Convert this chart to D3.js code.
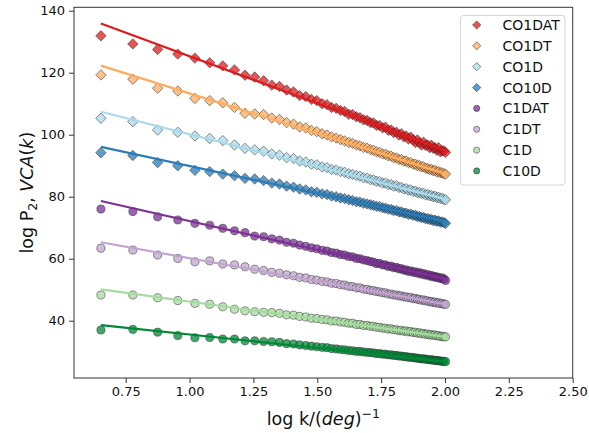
<!DOCTYPE html>
<html>
<head>
<meta charset="utf-8">
<script src="https://cdn.jsdelivr.net/npm/d3@7"></script>
<style>
  html, body { margin: 0; padding: 0; background: #fff; }
  svg { display: block; font-family: "DejaVu Sans", sans-serif; }
</style>
</head>
<body>
<svg id="chart" width="589" height="433"></svg>
<script>
// log k values (x)
const logK = [0.653,0.778,0.875,0.954,1.021,1.079,1.130,1.176,1.217,1.255,
  1.290,1.322,1.352,1.380,1.407,1.431,1.455,1.477,1.498,1.519,
  1.538,1.556,1.574,1.591,1.607,1.623,1.638,1.653,1.667,1.681,
  1.695,1.708,1.720,1.732,1.744,1.756,1.767,1.778,1.789,1.799,
  1.810,1.820,1.829,1.839,1.848,1.857,1.866,1.875,1.884,1.892,
  1.900,1.908,1.916,1.924,1.932,1.940,1.947,1.954,1.961,1.968,
  1.975,1.982,1.989,1.996,2.002];

const seriesNames = ["CO1DAT","CO1DT","CO1D","CO10D","C1DAT","C1DT","C1D","C10D"];
const seriesColors = ["#dc1c1f","#fdae61","#abd9e9","#2c7bb6","#7b3294","#c2a5cf","#a6dba0","#008837"];
const seriesShapes = ["diamond","diamond","diamond","diamond","circle","circle","circle","circle"];

const CO1DAT = [131.9,129.3,127.5,126.0,124.7,123.2,122.2,120.9,119.2,118.6,
  117.4,116.0,115.6,114.4,113.8,112.6,112.3,111.4,111.0,110.0,
  109.7,108.8,108.5,107.8,107.5,106.6,106.5,105.8,105.5,104.8,
  104.6,103.9,103.8,103.0,103.0,102.2,102.4,101.4,101.5,100.7,
  100.8,99.9,100.3,99.3,99.6,98.6,99.2,98.3,97.5,98.3,
  97.4,96.7,97.6,96.6,96.7,95.8,96.6,95.6,95.8,95.0,
  95.8,94.5,94.8,94.8,94.3];
const CO1DT = [119.3,117.9,115.0,114.1,111.7,111.0,110.3,108.8,106.9,106.7,
  106.5,105.4,104.9,103.9,103.4,102.5,102.2,101.4,101.0,100.3,
  99.9,99.3,98.9,98.4,98.0,97.5,97.2,96.7,96.4,95.9,
  95.7,95.2,95.0,94.5,94.3,93.8,93.7,93.2,93.1,92.6,
  92.5,92.0,92.0,91.5,91.5,91.0,91.0,90.5,90.5,90.0,
  90.1,89.6,89.7,89.2,89.1,88.8,88.8,88.4,88.5,88.0,
  88.1,87.7,87.7,87.4,87.3];
const CO1D = [105.3,104.2,101.5,100.8,99.6,98.8,98.1,96.7,95.6,95.1,
  94.7,93.8,93.4,92.6,92.3,91.5,91.2,90.5,90.3,89.6,
  89.4,88.8,88.6,88.1,87.9,87.4,87.2,86.8,86.6,86.1,
  86.0,85.5,85.4,85.0,84.9,84.4,84.4,83.9,83.9,83.4,
  83.5,83.0,83.0,82.5,82.6,82.1,82.2,81.7,81.8,81.3,
  81.4,81.0,81.1,80.6,80.7,80.3,80.4,80.0,80.1,79.7,
  79.8,79.4,79.5,79.1,79.0];
const CO10D = [94.2,93.3,91.0,90.0,88.5,88.1,87.3,86.8,85.9,85.7,
  85.2,84.4,84.1,83.4,83.1,82.5,82.2,81.6,81.4,80.9,
  80.7,80.2,80.0,79.6,79.4,79.0,78.8,78.4,78.3,77.9,
  77.7,77.4,77.2,76.9,76.8,76.4,76.3,76.0,75.9,75.5,
  75.5,75.1,75.1,74.7,74.7,74.3,74.4,74.0,74.0,73.6,
  73.6,73.3,73.3,72.9,73.0,72.6,72.7,72.3,72.4,72.1,
  72.2,71.8,71.9,71.6,71.4];
const C1DAT = [76.0,75.2,73.5,72.5,71.4,70.8,69.8,69.0,68.4,67.3,
  67.1,66.4,66.0,65.3,65.0,64.4,64.0,63.5,63.2,62.7,
  62.5,62.0,61.8,61.3,61.2,60.7,60.6,60.1,60.0,59.6,
  59.4,59.1,58.9,58.4,58.5,58.0,58.0,57.5,57.6,57.1,
  57.2,56.7,56.8,56.3,56.4,55.9,56.1,55.6,55.8,55.3,
  55.5,55.0,55.2,54.7,54.9,54.4,54.6,54.1,54.3,53.9,
  54.0,53.6,53.8,53.4,53.0];
const C1DT = [63.4,62.8,61.2,60.1,59.0,59.3,58.3,58.0,57.4,56.6,
  56.2,55.6,55.3,54.8,54.5,54.0,53.8,53.3,53.1,52.7,
  52.5,52.1,52.0,51.6,51.5,51.1,51.0,50.6,50.6,50.2,
  50.1,49.8,49.7,49.4,49.3,49.0,49.0,48.6,48.6,48.3,
  48.3,48.0,48.0,47.7,47.7,47.4,47.5,47.1,47.2,46.9,
  46.9,46.6,46.7,46.4,46.4,46.1,46.2,45.9,46.0,45.7,
  45.8,45.5,45.6,45.3,45.3];
const C1D = [48.3,48.3,47.4,46.5,45.6,45.3,44.5,43.7,43.2,42.9,
  42.7,42.6,42.4,41.9,41.8,41.4,41.2,40.8,40.7,40.4,
  40.3,39.9,39.9,39.6,39.5,39.2,39.2,38.8,38.8,38.5,
  38.5,38.2,38.2,37.9,37.9,37.6,37.6,37.3,37.4,37.1,
  37.1,36.8,36.9,36.6,36.7,36.4,36.5,36.2,36.3,36.0,
  36.1,35.8,35.9,35.6,35.7,35.4,35.5,35.3,35.4,35.1,
  35.2,34.9,35.0,34.8,34.8];
const C10D = [37.0,37.2,36.3,35.2,34.5,34.6,34.1,34.1,33.5,33.5,
  33.3,33.2,33.0,32.6,32.5,32.2,32.0,31.8,31.6,31.4,
  31.3,31.0,30.9,30.7,30.6,30.4,30.3,30.1,30.1,29.9,
  29.8,29.7,29.6,29.4,29.4,29.2,29.2,29.0,29.0,28.8,
  28.8,28.6,28.6,28.4,28.4,28.2,28.2,28.1,28.0,27.9,
  27.8,27.7,27.7,27.6,27.5,27.4,27.4,27.3,27.2,27.2,
  27.1,27.0,26.9,26.9,26.8];
const seriesValues = [CO1DAT, CO1DT, CO1D, CO10D, C1DAT, C1DT, C1D, C10D];

// fitted lines: value at first and last log k
const fitStart = [135.9,122.3,107.4,96.1,78.6,65.3,50.1,38.6];
const fitEnd   = [94.8,87.4,79.2,72.0,53.5,45.3,34.8,26.8];

const xTicks = [0.75,1.00,1.25,1.50,1.75,2.00,2.25,2.50];
const yTicks = [40,60,80,100,120,140];

const svg = d3.select("#chart");
const L = 74, R = 572.7, T = 7.3, B = 378;
const x = d3.scaleLinear().domain([0.5476, 2.5]).range([L, R]);
const y = d3.scaleLinear().domain([21.52, 141.1]).range([B, T]);

svg.append("defs").append("clipPath").attr("id","clip")
  .append("rect").attr("x",L).attr("y",T).attr("width",R-L).attr("height",B-T);

const plot = svg.append("g").attr("clip-path","url(#clip)");

const diamond = d3.symbol().type(d3.symbolSquare).size(54);
const circleSym = d3.symbol().type(d3.symbolCircle).size(52);

seriesNames.forEach((name, i) => {
  const g = plot.append("g");
  const data = logK.map((k, j) => ({x: k, y: seriesValues[i][j]}));
  g.selectAll("path").data(data).enter().append("path")
    .attr("d", seriesShapes[i] === "diamond" ? diamond() : circleSym())
    .attr("transform", d => `translate(${x(d.x)},${y(d.y)})` + (seriesShapes[i] === "diamond" ? " rotate(45)" : ""))
    .attr("fill", seriesColors[i])
    .attr("fill-opacity", 0.75)
    .attr("stroke", "#222")
    .attr("stroke-opacity", 0.6)
    .attr("stroke-width", 0.8);
});

seriesNames.forEach((name, i) => {
  const pts = [{x: logK[0], y: fitStart[i]}, {x: logK[logK.length-1], y: fitEnd[i]}];
  plot.append("path")
    .datum(pts)
    .attr("d", d3.line().x(d => x(d.x)).y(d => y(d.y)))
    .attr("fill","none")
    .attr("stroke", seriesColors[i])
    .attr("stroke-width", 2.2);
});

const xAxis = svg.append("g").attr("transform", `translate(0,${B})`)
  .call(d3.axisBottom(x).tickValues(xTicks).tickFormat(d3.format(".2f")).tickSize(5).tickPadding(4));
const yAxis = svg.append("g").attr("transform", `translate(${L},0)`)
  .call(d3.axisLeft(y).tickValues(yTicks).tickFormat(d3.format("d")).tickSize(5).tickPadding(4));
[xAxis, yAxis].forEach(a => {
  a.select(".domain").remove();
  a.selectAll(".tick line").attr("stroke","#333").attr("stroke-width",1);
  a.selectAll(".tick text").attr("fill","#111").style("font-size","13px").style("font-family","DejaVu Sans");
});

svg.append("rect").attr("x",L).attr("y",T).attr("width",R-L).attr("height",B-T)
  .attr("fill","none").attr("stroke","#333").attr("stroke-width",1);

const lg = svg.append("g");
lg.append("rect").attr("x",460.5).attr("y",15.5).attr("width",104.5).attr("height",169.5)
  .attr("rx",3).attr("fill","#fff").attr("fill-opacity",0.8).attr("stroke","#d6d6d6").attr("stroke-width",1);
const legDia = d3.symbol().type(d3.symbolSquare).size(34);
const legCir = d3.symbol().type(d3.symbolCircle).size(30);
seriesNames.forEach((name, i) => {
  const cy = 25 + i * 20.85;
  lg.append("path")
    .attr("d", seriesShapes[i] === "diamond" ? legDia() : legCir())
    .attr("transform", `translate(476.7,${cy})` + (seriesShapes[i] === "diamond" ? " rotate(45)" : ""))
    .attr("fill", seriesColors[i]).attr("fill-opacity",0.75)
    .attr("stroke","#222").attr("stroke-opacity",0.6).attr("stroke-width",0.8);
  lg.append("text").attr("x",502.5).attr("y",cy).attr("dy","0.36em")
    .attr("fill","#111").style("font-size","14px").text(name);
});

const xl = svg.append("text").attr("x",(L+R)/2).attr("y",425)
  .attr("text-anchor","middle").attr("fill","#111").style("font-size","17.5px");
xl.append("tspan").text("log k/(");
xl.append("tspan").style("font-style","italic").text("deg");
xl.append("tspan").text(")");
xl.append("tspan").attr("dy","-7").style("font-size","12.5px").text("\u22121");

const yl = svg.append("text").attr("transform",`translate(33,${(T+B)/2}) rotate(-90)`)
  .attr("text-anchor","middle").attr("fill","#111").style("font-size","17.5px");
yl.append("tspan").text("log P");
yl.append("tspan").attr("dy","4").style("font-size","12.5px").text("2");
yl.append("tspan").attr("dy","-4").text(", ");
yl.append("tspan").style("font-style","italic").text("VCA");
yl.append("tspan").text("(");
yl.append("tspan").style("font-style","italic").text("k");
yl.append("tspan").text(")");
</script>
</body>
</html>
